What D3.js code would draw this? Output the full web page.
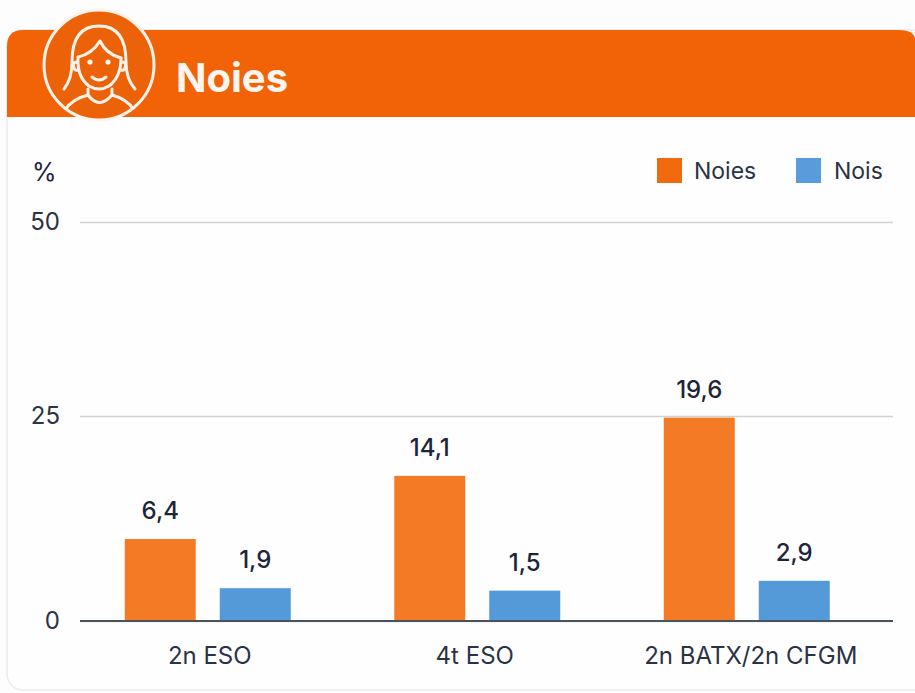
<!DOCTYPE html>
<html>
<head>
<meta charset="utf-8">
<script src="https://cdn.jsdelivr.net/npm/d3@7"></script>
<style>
    html, body { margin: 0; padding: 0; background: #fdfdfd; overflow: hidden; }
    svg { display: block; font-family: Inter, sans-serif; }
</style>
</head>
<body>
<div id="chart"></div>
<script>
var categories = ['2n ESO', '4t ESO', '2n BATX/2n CFGM'];
var seriesNames = ['Noies', 'Nois'];
// the bars in the picture do not follow their printed labels, so both are kept:
// heights are read against the y axis, labels are the printed text
var noiesHeights = [10, 17.7, 24.8];
var noisHeights = [4, 3.7, 4.9];
var noiesLabels = ['6,4', '14,1', '19,6'];
var noisLabels = ['1,9', '1,5', '2,9'];
var yTicks = [0, 25, 50];

var width = 915;
var height = 693;
var orange = '#f26207';
var cream = '#fdf3ea';
var ink = '#1c2638';
var barColours = { Noies: '#f47b25', Nois: '#5499d8' };
var legendColours = { Noies: '#f26a10', Nois: '#5a9bdc' };

var svg = d3.select('#chart')
    .append('svg')
    .attr('width', width)
    .attr('height', height);

// card and header
svg.append('rect')
    .attr('x', 7).attr('y', 30)
    .attr('width', 930).attr('height', 660)
    .attr('rx', 16)
    .attr('fill', '#fefefe')
    .attr('stroke', '#ececec')
    .attr('stroke-width', 1.5);

svg.append('path')
    .attr('d', 'M7 117 V46 Q7 30 23 30 H899 Q915 30 915 40 V117 Z')
    .attr('fill', orange);

svg.append('text')
    .attr('x', 176).attr('y', 92)
    .attr('font-size', 40)
    .attr('font-weight', 700)
    .attr('fill', '#fdf6f0')
    .text('Noies');

// girl icon
var icon = svg.append('g')
    .attr('fill', 'none')
    .attr('stroke', cream)
    .attr('stroke-width', 3)
    .attr('stroke-linecap', 'round')
    .attr('stroke-linejoin', 'round');

svg.append('clipPath').attr('id', 'icon-clip')
    .append('circle').attr('cx', 99).attr('cy', 65).attr('r', 55);

icon.append('circle')
    .attr('cx', 99).attr('cy', 65).attr('r', 55)
    .attr('fill', '#ec6209');

var iconInner = icon.append('g').attr('clip-path', 'url(#icon-clip)');
[
    'M64 89 Q72 79 72 62 Q72 26 99 26 Q126 26 126 62 Q126 79 135 89',
    'M78 57 Q92 54 100 41 Q106 54 121 58',
    'M78 58 Q77 77 89 86 Q99 92 109 86 Q121 77 121 58',
    'M77 62 Q72 62 74 68 Q75 71 78 70',
    'M122 62 Q127 62 125 68 Q124 71 121 70',
    'M92 77 Q99 83 106 77',
    'M88 89 V95 Q99 110 112 95 V89',
    'M65 110 Q72 99 88 95',
    'M134 110 Q127 99 112 95'
].forEach(function (d) {
    iconInner.append('path').attr('d', d);
});
[90, 108].forEach(function (cx) {
    icon.append('circle')
        .attr('cx', cx).attr('cy', 62).attr('r', 2.6)
        .attr('fill', cream).attr('stroke', 'none');
});

// scales
var x = d3.scaleBand()
    .domain(categories)
    .range([73, 881.5])
    .padding(0);

var xInner = d3.scaleBand()
    .domain(seriesNames)
    .range([x.bandwidth() / 2 - 83, x.bandwidth() / 2 + 83])
    .paddingInner(0.2526)
    .paddingOuter(0);

var y = d3.scaleLinear()
    .domain(yTicks)
    .range([621, 416, 222]);

// gridlines and y labels
var yAxis = svg.append('g')
    .attr('transform', 'translate(80,0)')
    .call(d3.axisLeft(y)
        .tickValues(yTicks)
        .tickSize(-813)
        .tickPadding(20));

yAxis.select('.domain').remove();
yAxis.selectAll('.tick line')
    .attr('stroke', '#cfd1d4')
    .attr('stroke-width', 1.5);
yAxis.selectAll('.tick text')
    .attr('font-family', 'Inter, sans-serif')
    .attr('font-size', 24)
    .attr('fill', '#2a3345');

svg.append('text')
    .attr('x', 32).attr('y', 181)
    .attr('font-size', 25)
    .attr('fill', ink)
    .text('%');

// bars
var rows = categories.map(function (c, i) {
    return [
        { category: c, series: 'Noies', value: noiesHeights[i], label: noiesLabels[i] },
        { category: c, series: 'Nois', value: noisHeights[i], label: noisLabels[i] }
    ];
});

var groups = svg.selectAll('.group').data(rows).enter()
    .append('g')
    .attr('class', 'group')
    .attr('transform', function (d) { return 'translate(' + x(d[0].category) + ',0)'; });

groups.selectAll('rect').data(function (d) { return d; }).enter()
    .append('rect')
    .attr('x', function (d) { return xInner(d.series); })
    .attr('y', function (d) { return y(d.value); })
    .attr('width', xInner.bandwidth())
    .attr('height', function (d) { return y(0) - y(d.value); })
    .attr('fill', function (d) { return barColours[d.series]; });

groups.selectAll('text').data(function (d) { return d; }).enter()
    .append('text')
    .attr('x', function (d) { return xInner(d.series) + xInner.bandwidth() / 2; })
    .attr('y', function (d) { return y(d.value) - 20; })
    .attr('text-anchor', 'middle')
    .attr('font-size', 24)
    .attr('font-weight', 500)
    .attr('fill', ink)
    .text(function (d) { return d.label; });

// x axis on top of the bars
var xAxis = svg.append('g')
    .attr('transform', 'translate(0,' + y(0) + ')')
    .call(d3.axisBottom(x).tickSize(0).tickPadding(26));

xAxis.select('.domain')
    .attr('d', 'M80 0 H893')
    .attr('stroke', '#4a525e')
    .attr('stroke-width', 2);
// labels sit slightly off the band centres in the picture
var labelShift = [2, -2.5, 4];
xAxis.selectAll('.tick text')
    .attr('dx', function (d, i) { return labelShift[i]; })
    .attr('font-family', 'Inter, sans-serif')
    .attr('font-size', 24)
    .attr('fill', '#2a3345');

// legend
var legendX = { Noies: 657, Nois: 796 };
var legend = svg.selectAll('.legend').data(seriesNames).enter()
    .append('g')
    .attr('class', 'legend')
    .attr('transform', function (d) { return 'translate(' + legendX[d] + ',158)'; });

legend.append('rect')
    .attr('width', 25).attr('height', 25)
    .attr('fill', function (d) { return legendColours[d]; });

legend.append('text')
    .attr('x', function (d) { return d === 'Noies' ? 37 : 38; })
    .attr('y', 21)
    .attr('font-size', 23)
    .attr('fill', '#2a3345')
    .text(function (d) { return d; });
</script>
</body>
</html>
